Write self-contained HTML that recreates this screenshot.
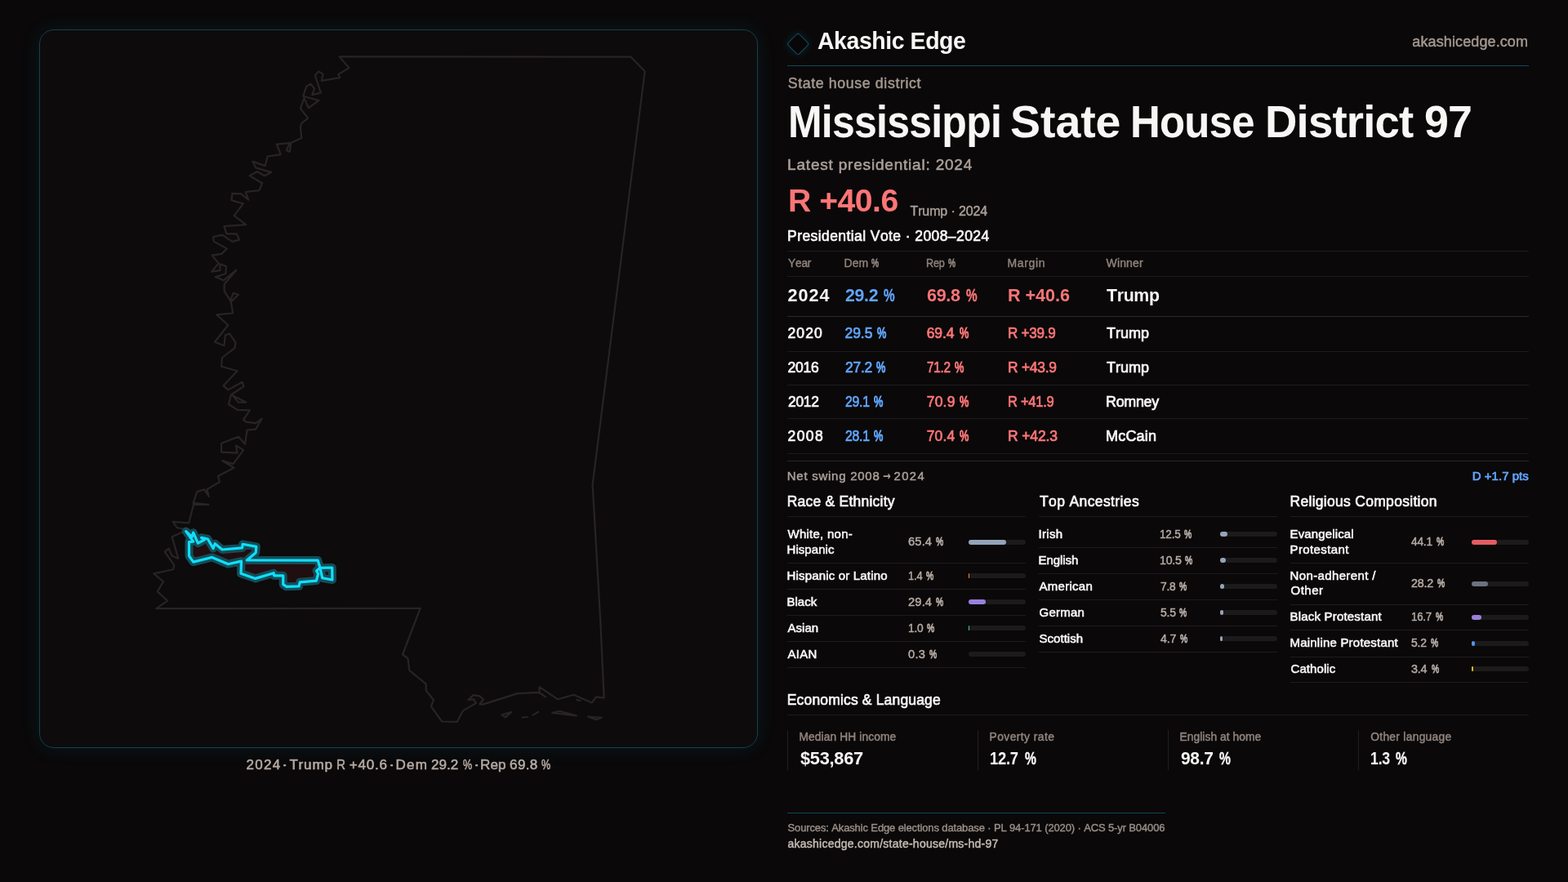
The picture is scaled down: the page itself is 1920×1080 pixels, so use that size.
<!DOCTYPE html>
<html lang="en"><head><meta charset="utf-8"><title>Mississippi State House District 97 · Akashic Edge</title>
<style>
html,body{margin:0;padding:0;background:#0a0809;}
header,footer,section,p{margin:0;padding:0;display:block;position:static;}
body{width:1920px;height:1080px;position:relative;overflow:hidden;font-family:"Liberation Sans", sans-serif;}
.t{position:absolute;white-space:pre;font-family:"Liberation Sans", sans-serif;font-kerning:none;}
.ln{position:absolute;}
.bar{position:absolute;width:70px;height:6px;border-radius:3px;background:#1c1a1b;}
.bar i{display:block;height:6px;border-radius:3px;}
#panel{position:absolute;left:48px;top:36px;width:878px;height:878px;border:1px solid #11414e;border-radius:18px;background:#0d0b0c;box-shadow:0 0 26px rgba(34,211,238,0.085);}
#map{position:absolute;left:0;top:0;}
#logo{position:absolute;left:966.6px;top:43.8px;width:18.4px;height:18.4px;border:1.8px solid #0f4e60;border-radius:3px;background:#080607;transform:rotate(45deg);box-shadow:0 0 12px rgba(34,211,238,0.16);}
</style></head><body>
<div id="panel"></div>
<svg id="map" width="960" height="1080" viewBox="0 0 960 1080">
<g fill="none" stroke="#282425" stroke-width="2.2" stroke-linejoin="round" stroke-linecap="round"><path d="M415.6,69.4 L427.4,83.1 L414.1,91.1 L416.3,95.2 L393.7,98.9 L395.6,90.6 L390,87.4 L385.9,92.4 L392.8,113.7 L382.2,116.1 L385,108.5 L380.4,102.6 L375.2,105.9 L371.1,117.8 L390.4,123 L378,132.2 L372.4,120.2 L367.8,132.8 L377,144.6 L369.6,150.7 L367.8,155.4 L369.3,168.9 L356.3,174.8 L354.8,185.9 L350.7,184.1 L354.8,175.2 L338.7,176.7 L343.7,189.1 L327.6,191.5 L324.8,203.1 L309.4,197.6 L313.1,205.4 L332.2,210.9 L323.7,215.2 L315,210 L305.7,215.2 L321.1,224.3 L317.4,233.1 L300.7,235 L304.3,244.6 L295.2,237.4 L284.4,236.9 L283.5,245.2 L297.8,249.4 L286.7,264.1 L301.3,275.2 L274.4,277 L277.4,286.3 L289.8,286.3 L293.1,293.7 L284.3,295.9 L272.2,287.6 L261.1,290 L261.7,295.6 L277.8,304.4 L271.3,310.9 L259.6,312.6 L267.6,322.4 L259.3,332.6 L269.4,331.1 L269.4,323.3 L276.9,326.1 L276.5,335 L263.9,339.1 L273.7,343.3 L289.4,330.7 L274.6,348 L274.6,356.3 L282,367.8 L285.7,358.9 L292,360.7 L282.8,369.6 L285.2,383.5 L265.2,385.4 L279.3,398 L263,418.7 L274.4,423.3 L275.9,410.4 L281.1,408.5 L288.5,419.3 L287.4,426.1 L272,438 L271.1,448.7 L290.6,454.3 L273.5,472.2 L279.4,477.4 L296.7,467.8 L298.5,473.1 L283.7,483 L292,492.6 L301.3,492.6 L282.8,483.3 L280,495 L290.6,501.9 L305.9,502.4 L298.1,513.9 L301.3,516.7 L313.3,518.1 L320.7,512.6 L313,525.6 L302.6,526.5 L300,543.7 L292,534.8 L271.1,542.8 L271.1,553.7 L290.6,554.6 L288.9,545.4 L298.1,551.1 L285.6,568.1 L272,564.1 L286.5,572.8 L267,583 L268.9,590 L253.5,599.3 L255.9,608 L250,599.3 L241.1,602.4 L236.7,615.9 L255.2,617.8 L237,617.8 L231.3,640.3 L211.7,638.9 L216.7,646.1 L224.4,647.8 L227,650 L210.6,657.2 L218.3,683.9 L210.6,680.6 L206.7,671.7 L201.7,675.6 L213.3,692 L212.2,697.2 L188.3,702.4 L200,712.2 L192.8,724.4 L205,735.6 L191.3,745.2 L514.6,744.8 L493,801.5 L499.4,806.1 L501.3,820.9 L521.7,837.6 L521.7,845.6 L530.9,857 L527.8,864.8 L541.1,883.5 L559.6,883.9 L566.7,870.4 L582.8,861.1 L580,856.1 L573.5,857 L579.6,851.1 L587.4,852.4 L592,856.7 L587.4,862.2 L591.1,862.6 L633.7,849.1 L659.6,847.8 L668.1,853.3 L660.3,848 L660.7,841.2 L683,856.3 L702.5,850.7 L724.7,860.4 L730.1,853.3 L739.6,854.5 L735.2,760 L725.6,593.3 L789.6,87.3 L772.2,69.6 Z"/><path d="M614.3,875.2 L626.3,871.9 L618.9,878.3 Z"/><path d="M639.6,878.5 L645.7,878"/><path d="M652.6,875.6 L659.3,871.6"/><path d="M676.3,872.9 L685.2,870.8 L705.9,876.3 Z"/><path d="M720,877.5 L729.6,881.2 L737,878.8 Z"/><path d="M706,857 L710.4,857.8"/></g>
<path d="M227.8,650.6 L235.1,657.4 L236.7,652.2 L242.4,665.2 L250.2,661.0 L246.6,658.4 L254.4,660 L261.1,671.5 L263.2,665.7 L272.1,673.0 L296.6,670.9 L297.1,666.3 L313.8,669.4 L313.2,676.7 L302.3,686.0 L389.2,686.1 L391.9,695.3 L406.7,695.0 L406.9,710.0 L394.7,707.8 L391.9,695.3 L387.6,698.9 L389.6,702.6 L387.4,711.1 L367.2,712.8 L366.1,717.8 L350.6,718.3 L346.7,715.6 L346.7,704.8 L335.6,704.8 L335.1,701.7 L312.7,708.4 L295,702.2 L295.5,687.1 L279.4,690.7 L259.6,682.4 L236.7,688.1 L231.5,680.8 L231.5,663.6 L236.7,663.1 Z" fill="#200e10" stroke="#15505c" stroke-width="10" stroke-linejoin="round" stroke-opacity="0.95"/>
<path d="M227.8,650.6 L235.1,657.4 L236.7,652.2 L242.4,665.2 L250.2,661.0 L246.6,658.4 L254.4,660 L261.1,671.5 L263.2,665.7 L272.1,673.0 L296.6,670.9 L297.1,666.3 L313.8,669.4 L313.2,676.7 L302.3,686.0 L389.2,686.1 L391.9,695.3 L406.7,695.0 L406.9,710.0 L394.7,707.8 L391.9,695.3 L387.6,698.9 L389.6,702.6 L387.4,711.1 L367.2,712.8 L366.1,717.8 L350.6,718.3 L346.7,715.6 L346.7,704.8 L335.6,704.8 L335.1,701.7 L312.7,708.4 L295,702.2 L295.5,687.1 L279.4,690.7 L259.6,682.4 L236.7,688.1 L231.5,680.8 L231.5,663.6 L236.7,663.1 Z" fill="none" stroke="#10dffc" stroke-width="3.2" stroke-linejoin="round"/>
</svg>
<div id="logo"></div>
<div class="ln" style="left:964px;top:80px;width:908px;height:1px;background:#0f4757"></div>
<div class="ln" style="left:964px;top:307px;width:908px;height:1px;background:#1d1b1c"></div>
<div class="ln" style="left:964px;top:338px;width:908px;height:1px;background:#1d1b1c"></div>
<div class="ln" style="left:964px;top:387px;width:908px;height:1px;background:#2a2728"></div>
<div class="ln" style="left:964px;top:430px;width:908px;height:1px;background:#1d1b1c"></div>
<div class="ln" style="left:964px;top:471px;width:908px;height:1px;background:#1d1b1c"></div>
<div class="ln" style="left:964px;top:512px;width:908px;height:1px;background:#1d1b1c"></div>
<div class="ln" style="left:964px;top:555px;width:908px;height:1px;background:#1d1b1c"></div>
<div class="ln" style="left:964px;top:564px;width:908px;height:1px;background:#2a2728"></div>
<div class="ln" style="left:964px;top:632px;width:292px;height:1px;background:#1d1b1c"></div>
<div class="ln" style="left:1272px;top:632px;width:292px;height:1px;background:#1d1b1c"></div>
<div class="ln" style="left:1580px;top:632px;width:292px;height:1px;background:#1d1b1c"></div>
<div class="ln" style="left:964px;top:689px;width:292px;height:1px;background:#1d1b1c"></div>
<div class="ln" style="left:964px;top:721px;width:292px;height:1px;background:#1d1b1c"></div>
<div class="ln" style="left:964px;top:753px;width:292px;height:1px;background:#1d1b1c"></div>
<div class="ln" style="left:964px;top:785px;width:292px;height:1px;background:#1d1b1c"></div>
<div class="ln" style="left:964px;top:817px;width:292px;height:1px;background:#1d1b1c"></div>
<div class="ln" style="left:1272px;top:670px;width:292px;height:1px;background:#1d1b1c"></div>
<div class="ln" style="left:1272px;top:702px;width:292px;height:1px;background:#1d1b1c"></div>
<div class="ln" style="left:1272px;top:734px;width:292px;height:1px;background:#1d1b1c"></div>
<div class="ln" style="left:1272px;top:766px;width:292px;height:1px;background:#1d1b1c"></div>
<div class="ln" style="left:1272px;top:798px;width:292px;height:1px;background:#1d1b1c"></div>
<div class="ln" style="left:1580px;top:689px;width:292px;height:1px;background:#1d1b1c"></div>
<div class="ln" style="left:1580px;top:740px;width:292px;height:1px;background:#1d1b1c"></div>
<div class="ln" style="left:1580px;top:771px;width:292px;height:1px;background:#1d1b1c"></div>
<div class="ln" style="left:1580px;top:804px;width:292px;height:1px;background:#1d1b1c"></div>
<div class="ln" style="left:1580px;top:835px;width:292px;height:1px;background:#1d1b1c"></div>
<div class="ln" style="left:964px;top:875px;width:908px;height:1px;background:#1d1b1c"></div>
<div class="ln" style="left:964px;top:894px;width:1px;height:49px;background:#211f20"></div>
<div class="ln" style="left:1197px;top:894px;width:1px;height:49px;background:#211f20"></div>
<div class="ln" style="left:1430px;top:894px;width:1px;height:49px;background:#211f20"></div>
<div class="ln" style="left:1663px;top:894px;width:1px;height:49px;background:#211f20"></div>
<div class="ln" style="left:964px;top:995px;width:463px;height:1px;background:#0f4757"></div>
<div class="bar" style="left:1186px;top:661px"><i style="width:45.78px;background:#94a3b8"></i></div>
<div class="bar" style="left:1186px;top:702px"><i style="width:0.98px;background:#e9960e"></i></div>
<div class="bar" style="left:1186px;top:734px"><i style="width:20.58px;background:#9a80dc"></i></div>
<div class="bar" style="left:1186px;top:766px"><i style="width:0.70px;background:#34d399"></i></div>
<div class="bar" style="left:1186px;top:798px"></div>
<div class="bar" style="left:1494px;top:651px"><i style="width:8.75px;background:#94a3b8"></i></div>
<div class="bar" style="left:1494px;top:683px"><i style="width:7.35px;background:#94a3b8"></i></div>
<div class="bar" style="left:1494px;top:715px"><i style="width:5.46px;background:#94a3b8"></i></div>
<div class="bar" style="left:1494px;top:747px"><i style="width:3.85px;background:#94a3b8"></i></div>
<div class="bar" style="left:1494px;top:779px"><i style="width:3.29px;background:#94a3b8"></i></div>
<div class="bar" style="left:1802px;top:661px"><i style="width:30.87px;background:#e35d63"></i></div>
<div class="bar" style="left:1802px;top:712px"><i style="width:19.74px;background:#6b7280"></i></div>
<div class="bar" style="left:1802px;top:753px"><i style="width:11.69px;background:#9a80dc"></i></div>
<div class="bar" style="left:1802px;top:785px"><i style="width:3.64px;background:#4f96ea"></i></div>
<div class="bar" style="left:1802px;top:816px"><i style="width:2.38px;background:#f0b429"></i></div>
<header id="header">
<span class="t" style="left:1001.25px;top:36.01px;font-size:28.8px;line-height:28.8px;letter-spacing:-0.432px;color:#f8f7f5;font-weight:700;transform:scaleX(0.988);transform-origin:0 0;">Akashic Edge</span>
<span class="t" style="left:1729.30px;top:42.01px;font-size:18px;line-height:18px;letter-spacing:0.115px;color:#a3978f;-webkit-text-stroke:0.48px #a3978f;">akashicedge.com</span>
</header>
<section id="hero">
<span class="t" style="left:964.75px;top:94.01px;font-size:17.8px;line-height:17.8px;letter-spacing:0.604px;color:#a3978f;-webkit-text-stroke:0.48px #a3978f;">State house district</span>
<span class="t" style="left:965.05px;top:122.00px;font-size:55.5px;line-height:55.5px;letter-spacing:-0.833px;color:#f8f7f5;font-weight:700;transform:scaleX(0.900);transform-origin:0 0;">Mississippi</span>
<span class="t" style="left:1237.10px;top:122.00px;font-size:55.5px;line-height:55.5px;letter-spacing:-0.087px;color:#f8f7f5;font-weight:700;">State</span>
<span class="t" style="left:1384.15px;top:122.00px;font-size:55.5px;line-height:55.5px;letter-spacing:-0.833px;color:#f8f7f5;font-weight:700;transform:scaleX(0.917);transform-origin:0 0;">House</span>
<span class="t" style="left:1549.05px;top:122.00px;font-size:55.5px;line-height:55.5px;letter-spacing:-0.833px;color:#f8f7f5;font-weight:700;transform:scaleX(0.983);transform-origin:0 0;">District</span>
<span class="t" style="left:1744.03px;top:122.00px;font-size:55.5px;line-height:55.5px;letter-spacing:-0.833px;color:#f8f7f5;font-weight:700;transform:scaleX(0.969);transform-origin:0 0;">97</span>
<span class="t" style="left:964.10px;top:192.01px;font-size:19px;line-height:19px;letter-spacing:0.799px;color:#ab9f98;-webkit-text-stroke:0.56px #ab9f98;">Latest presidential: 2024</span>
<span class="t" style="left:965.00px;top:226.00px;font-size:39.2px;line-height:39.2px;letter-spacing:-0.508px;color:#fb7577;font-weight:700;">R +40.6</span>
<span class="t" style="left:1114.50px;top:251.00px;font-size:16px;line-height:16px;letter-spacing:-0.118px;color:#ab9f98;-webkit-text-stroke:0.48px #ab9f98;">Trump · 2024</span>
<span class="t" style="left:964.10px;top:281.00px;font-size:17.5px;line-height:17.5px;letter-spacing:0.416px;color:#f8f7f5;-webkit-text-stroke:0.64px #f8f7f5;">Presidential Vote · 2008–2024</span>
</section>
<section id="pres-table">
<span class="t" style="left:965.00px;top:315.01px;font-size:14px;line-height:14px;letter-spacing:-0.210px;color:#8f837c;-webkit-text-stroke:0.40px #8f837c;transform:scaleX(0.982);transform-origin:0 0;">Year</span>
<span class="t" style="left:1033.50px;top:315.01px;font-size:14px;line-height:14px;letter-spacing:0.074px;color:#8f837c;-webkit-text-stroke:0.40px #8f837c;">Dem</span>
<span class="t" style="left:1067.27px;top:315.01px;font-size:14px;line-height:14px;letter-spacing:0.000px;color:#8f837c;-webkit-text-stroke:0.80px #8f837c;transform:scaleX(0.728);transform-origin:0 0;">%</span>
<span class="t" style="left:1133.60px;top:315.01px;font-size:14px;line-height:14px;letter-spacing:-0.210px;color:#8f837c;-webkit-text-stroke:0.40px #8f837c;transform:scaleX(0.901);transform-origin:0 0;">Rep</span>
<span class="t" style="left:1161.27px;top:315.01px;font-size:14px;line-height:14px;letter-spacing:0.000px;color:#8f837c;-webkit-text-stroke:0.80px #8f837c;transform:scaleX(0.728);transform-origin:0 0;">%</span>
<span class="t" style="left:1233.50px;top:315.01px;font-size:14px;line-height:14px;letter-spacing:0.649px;color:#8f837c;-webkit-text-stroke:0.40px #8f837c;">Margin</span>
<span class="t" style="left:1354.50px;top:315.01px;font-size:14px;line-height:14px;letter-spacing:0.163px;color:#8f837c;-webkit-text-stroke:0.40px #8f837c;">Winner</span>
<span class="t" style="left:964.50px;top:351.00px;font-size:21.6px;line-height:21.6px;letter-spacing:0.991px;color:#f8f7f5;font-weight:700;">2024</span>
<span class="t" style="left:1034.50px;top:351.00px;font-size:21.6px;line-height:21.6px;letter-spacing:-0.324px;color:#60a5fa;font-weight:700;transform:scaleX(0.986);transform-origin:0 0;">29.2</span>
<span class="t" style="left:1082.28px;top:351.00px;font-size:21.6px;line-height:21.6px;letter-spacing:0.000px;color:#60a5fa;font-weight:700;-webkit-text-stroke:0.40px #60a5fa;transform:scaleX(0.709);transform-origin:0 0;">%</span>
<span class="t" style="left:1134.50px;top:351.00px;font-size:21.6px;line-height:21.6px;letter-spacing:-0.324px;color:#fb7577;font-weight:700;transform:scaleX(0.999);transform-origin:0 0;">69.8</span>
<span class="t" style="left:1182.78px;top:351.00px;font-size:21.6px;line-height:21.6px;letter-spacing:0.000px;color:#fb7577;font-weight:700;-webkit-text-stroke:0.40px #fb7577;transform:scaleX(0.709);transform-origin:0 0;">%</span>
<span class="t" style="left:1234.00px;top:351.00px;font-size:21.6px;line-height:21.6px;letter-spacing:-0.037px;color:#fb7577;font-weight:700;">R +40.6</span>
<span class="t" style="left:1354.50px;top:351.00px;font-size:21.6px;line-height:21.6px;letter-spacing:-0.324px;color:#f8f7f5;font-weight:700;transform:scaleX(0.985);transform-origin:0 0;">Trump</span>
<span class="t" style="left:964.50px;top:400.00px;font-size:17.5px;line-height:17.5px;letter-spacing:1.101px;color:#f8f7f5;-webkit-text-stroke:0.72px #f8f7f5;">2020</span>
<span class="t" style="left:1034.50px;top:400.00px;font-size:17.5px;line-height:17.5px;letter-spacing:-0.049px;color:#60a5fa;-webkit-text-stroke:0.72px #60a5fa;">29.5</span>
<span class="t" style="left:1073.58px;top:400.00px;font-size:17.5px;line-height:17.5px;letter-spacing:0.000px;color:#60a5fa;-webkit-text-stroke:1.12px #60a5fa;transform:scaleX(0.728);transform-origin:0 0;">%</span>
<span class="t" style="left:1134.75px;top:400.00px;font-size:17.5px;line-height:17.5px;letter-spacing:-0.132px;color:#fb7577;-webkit-text-stroke:0.72px #fb7577;">69.4</span>
<span class="t" style="left:1174.58px;top:400.00px;font-size:17.5px;line-height:17.5px;letter-spacing:0.000px;color:#fb7577;-webkit-text-stroke:1.12px #fb7577;transform:scaleX(0.728);transform-origin:0 0;">%</span>
<span class="t" style="left:1234.03px;top:400.00px;font-size:17.5px;line-height:17.5px;letter-spacing:-0.263px;color:#fb7577;-webkit-text-stroke:0.72px #fb7577;transform:scaleX(0.975);transform-origin:0 0;">R +39.9</span>
<span class="t" style="left:1355.00px;top:399.01px;font-size:18px;line-height:18px;letter-spacing:-0.019px;color:#f8f7f5;-webkit-text-stroke:0.72px #f8f7f5;">Trump</span>
<span class="t" style="left:964.50px;top:442.00px;font-size:17.5px;line-height:17.5px;letter-spacing:-0.233px;color:#f8f7f5;-webkit-text-stroke:0.72px #f8f7f5;">2016</span>
<span class="t" style="left:1034.50px;top:442.00px;font-size:17.5px;line-height:17.5px;letter-spacing:-0.263px;color:#60a5fa;-webkit-text-stroke:0.72px #60a5fa;transform:scaleX(0.997);transform-origin:0 0;">27.2</span>
<span class="t" style="left:1072.83px;top:442.00px;font-size:17.5px;line-height:17.5px;letter-spacing:0.000px;color:#60a5fa;-webkit-text-stroke:1.12px #60a5fa;transform:scaleX(0.728);transform-origin:0 0;">%</span>
<span class="t" style="left:1134.75px;top:442.00px;font-size:17.5px;line-height:17.5px;letter-spacing:-0.263px;color:#fb7577;-webkit-text-stroke:0.72px #fb7577;transform:scaleX(0.874);transform-origin:0 0;">71.2</span>
<span class="t" style="left:1169.08px;top:442.00px;font-size:17.5px;line-height:17.5px;letter-spacing:0.000px;color:#fb7577;-webkit-text-stroke:1.12px #fb7577;transform:scaleX(0.728);transform-origin:0 0;">%</span>
<span class="t" style="left:1234.00px;top:442.00px;font-size:17.5px;line-height:17.5px;letter-spacing:-0.263px;color:#fb7577;-webkit-text-stroke:0.72px #fb7577;transform:scaleX(0.996);transform-origin:0 0;">R +43.9</span>
<span class="t" style="left:1355.00px;top:441.01px;font-size:18px;line-height:18px;letter-spacing:-0.019px;color:#f8f7f5;-webkit-text-stroke:0.72px #f8f7f5;">Trump</span>
<span class="t" style="left:964.50px;top:484.00px;font-size:17.5px;line-height:17.5px;letter-spacing:-0.263px;color:#f8f7f5;-webkit-text-stroke:0.72px #f8f7f5;transform:scaleX(0.996);transform-origin:0 0;">2012</span>
<span class="t" style="left:1034.50px;top:484.00px;font-size:17.5px;line-height:17.5px;letter-spacing:-0.263px;color:#60a5fa;-webkit-text-stroke:0.72px #60a5fa;transform:scaleX(0.904);transform-origin:0 0;">29.1</span>
<span class="t" style="left:1069.83px;top:484.00px;font-size:17.5px;line-height:17.5px;letter-spacing:0.000px;color:#60a5fa;-webkit-text-stroke:1.12px #60a5fa;transform:scaleX(0.728);transform-origin:0 0;">%</span>
<span class="t" style="left:1134.75px;top:484.00px;font-size:17.5px;line-height:17.5px;letter-spacing:0.201px;color:#fb7577;-webkit-text-stroke:0.72px #fb7577;">70.9</span>
<span class="t" style="left:1174.58px;top:484.00px;font-size:17.5px;line-height:17.5px;letter-spacing:0.000px;color:#fb7577;-webkit-text-stroke:1.12px #fb7577;transform:scaleX(0.728);transform-origin:0 0;">%</span>
<span class="t" style="left:1234.06px;top:484.00px;font-size:17.5px;line-height:17.5px;letter-spacing:-0.263px;color:#fb7577;-webkit-text-stroke:0.72px #fb7577;transform:scaleX(0.941);transform-origin:0 0;">R +41.9</span>
<span class="t" style="left:1354.01px;top:483.01px;font-size:18px;line-height:18px;letter-spacing:-0.270px;color:#f8f7f5;-webkit-text-stroke:0.72px #f8f7f5;transform:scaleX(0.993);transform-origin:0 0;">Romney</span>
<span class="t" style="left:964.50px;top:526.00px;font-size:17.5px;line-height:17.5px;letter-spacing:1.434px;color:#f8f7f5;-webkit-text-stroke:0.72px #f8f7f5;">2008</span>
<span class="t" style="left:1034.50px;top:526.00px;font-size:17.5px;line-height:17.5px;letter-spacing:-0.263px;color:#60a5fa;-webkit-text-stroke:0.72px #60a5fa;transform:scaleX(0.904);transform-origin:0 0;">28.1</span>
<span class="t" style="left:1069.83px;top:526.00px;font-size:17.5px;line-height:17.5px;letter-spacing:0.000px;color:#60a5fa;-webkit-text-stroke:1.12px #60a5fa;transform:scaleX(0.728);transform-origin:0 0;">%</span>
<span class="t" style="left:1134.75px;top:526.00px;font-size:17.5px;line-height:17.5px;letter-spacing:0.118px;color:#fb7577;-webkit-text-stroke:0.72px #fb7577;">70.4</span>
<span class="t" style="left:1175.33px;top:526.00px;font-size:17.5px;line-height:17.5px;letter-spacing:0.000px;color:#fb7577;-webkit-text-stroke:1.12px #fb7577;transform:scaleX(0.728);transform-origin:0 0;">%</span>
<span class="t" style="left:1234.00px;top:526.00px;font-size:17.5px;line-height:17.5px;letter-spacing:-0.133px;color:#fb7577;-webkit-text-stroke:0.72px #fb7577;">R +42.3</span>
<span class="t" style="left:1354.00px;top:525.01px;font-size:18px;line-height:18px;letter-spacing:0.199px;color:#f8f7f5;-webkit-text-stroke:0.72px #f8f7f5;">McCain</span>
<span class="t" style="left:963.75px;top:575.01px;font-size:15px;line-height:15px;letter-spacing:0.738px;color:#ab9f98;-webkit-text-stroke:0.48px #ab9f98;">Net swing 2008</span>
<span class="t" style="left:1080.75px;top:576.00px;font-size:14.8px;line-height:14.8px;letter-spacing:0.000px;color:#ab9f98;font-weight:700;font-family:'DejaVu Sans','Liberation Sans',sans-serif;transform:scaleX(0.779);transform-origin:0 0;">→</span>
<span class="t" style="left:1094.50px;top:576.00px;font-size:14.8px;line-height:14.8px;letter-spacing:1.404px;color:#ab9f98;-webkit-text-stroke:0.48px #ab9f98;">2024</span>
<span class="t" style="left:1802.75px;top:575.01px;font-size:15px;line-height:15px;letter-spacing:0.023px;color:#60a5fa;-webkit-text-stroke:0.72px #60a5fa;">D +1.7 pts</span>
</section>
<section id="heads">
<span class="t" style="left:963.75px;top:606.00px;font-size:17.5px;line-height:17.5px;letter-spacing:0.224px;color:#f8f7f5;-webkit-text-stroke:0.64px #f8f7f5;">Race &amp; Ethnicity</span>
<span class="t" style="left:1273.00px;top:606.00px;font-size:17.5px;line-height:17.5px;letter-spacing:0.383px;color:#f8f7f5;-webkit-text-stroke:0.64px #f8f7f5;">Top Ancestries</span>
<span class="t" style="left:1579.50px;top:606.00px;font-size:17.5px;line-height:17.5px;letter-spacing:0.294px;color:#f8f7f5;-webkit-text-stroke:0.64px #f8f7f5;">Religious Composition</span>
<span class="t" style="left:963.75px;top:849.01px;font-size:17.5px;line-height:17.5px;letter-spacing:0.165px;color:#f8f7f5;-webkit-text-stroke:0.64px #f8f7f5;">Economics &amp; Language</span>
</section>
<section id="race">
<span class="t" style="left:964.50px;top:646.01px;font-size:15px;line-height:15px;letter-spacing:0.255px;color:#f8f7f5;-webkit-text-stroke:0.56px #f8f7f5;">White, non-</span>
<span class="t" style="left:963.50px;top:665.01px;font-size:15px;line-height:15px;letter-spacing:0.068px;color:#f8f7f5;-webkit-text-stroke:0.56px #f8f7f5;">Hispanic</span>
<span class="t" style="left:1112.00px;top:656.01px;font-size:14.7px;line-height:14.7px;letter-spacing:0.151px;color:#b5aaa3;-webkit-text-stroke:0.48px #b5aaa3;">65.4</span>
<span class="t" style="left:1145.83px;top:656.01px;font-size:14.7px;line-height:14.7px;letter-spacing:0.000px;color:#b5aaa3;-webkit-text-stroke:0.88px #b5aaa3;transform:scaleX(0.705);transform-origin:0 0;">%</span>
<span class="t" style="left:963.50px;top:697.01px;font-size:15px;line-height:15px;letter-spacing:0.178px;color:#f8f7f5;-webkit-text-stroke:0.56px #f8f7f5;">Hispanic or Latino</span>
<span class="t" style="left:1111.62px;top:698.01px;font-size:14.7px;line-height:14.7px;letter-spacing:-0.220px;color:#b5aaa3;-webkit-text-stroke:0.48px #b5aaa3;transform:scaleX(0.884);transform-origin:0 0;">1.4</span>
<span class="t" style="left:1134.08px;top:698.01px;font-size:14.7px;line-height:14.7px;letter-spacing:0.000px;color:#b5aaa3;-webkit-text-stroke:0.88px #b5aaa3;transform:scaleX(0.705);transform-origin:0 0;">%</span>
<span class="t" style="left:963.50px;top:729.01px;font-size:15px;line-height:15px;letter-spacing:0.018px;color:#f8f7f5;-webkit-text-stroke:0.56px #f8f7f5;">Black</span>
<span class="t" style="left:1112.00px;top:730.01px;font-size:14.7px;line-height:14.7px;letter-spacing:0.151px;color:#b5aaa3;-webkit-text-stroke:0.48px #b5aaa3;">29.4</span>
<span class="t" style="left:1145.83px;top:730.01px;font-size:14.7px;line-height:14.7px;letter-spacing:0.000px;color:#b5aaa3;-webkit-text-stroke:0.88px #b5aaa3;transform:scaleX(0.705);transform-origin:0 0;">%</span>
<span class="t" style="left:964.50px;top:761.01px;font-size:15px;line-height:15px;letter-spacing:0.018px;color:#f8f7f5;-webkit-text-stroke:0.56px #f8f7f5;">Asian</span>
<span class="t" style="left:1111.56px;top:762.01px;font-size:14.7px;line-height:14.7px;letter-spacing:-0.220px;color:#b5aaa3;-webkit-text-stroke:0.48px #b5aaa3;transform:scaleX(0.937);transform-origin:0 0;">1.0</span>
<span class="t" style="left:1135.08px;top:762.01px;font-size:14.7px;line-height:14.7px;letter-spacing:0.000px;color:#b5aaa3;-webkit-text-stroke:0.88px #b5aaa3;transform:scaleX(0.705);transform-origin:0 0;">%</span>
<span class="t" style="left:964.50px;top:793.01px;font-size:15px;line-height:15px;letter-spacing:0.274px;color:#f8f7f5;-webkit-text-stroke:0.56px #f8f7f5;">AIAN</span>
<span class="t" style="left:1112.00px;top:794.01px;font-size:14.7px;line-height:14.7px;letter-spacing:0.311px;color:#b5aaa3;-webkit-text-stroke:0.48px #b5aaa3;">0.3</span>
<span class="t" style="left:1137.83px;top:794.01px;font-size:14.7px;line-height:14.7px;letter-spacing:0.000px;color:#b5aaa3;-webkit-text-stroke:0.88px #b5aaa3;transform:scaleX(0.705);transform-origin:0 0;">%</span>
</section>
<section id="ancestry">
<span class="t" style="left:1271.50px;top:646.01px;font-size:15px;line-height:15px;letter-spacing:0.314px;color:#f8f7f5;-webkit-text-stroke:0.56px #f8f7f5;">Irish</span>
<span class="t" style="left:1419.58px;top:647.01px;font-size:14.7px;line-height:14.7px;letter-spacing:-0.220px;color:#b5aaa3;-webkit-text-stroke:0.48px #b5aaa3;transform:scaleX(0.920);transform-origin:0 0;">12.5</span>
<span class="t" style="left:1450.08px;top:647.01px;font-size:14.7px;line-height:14.7px;letter-spacing:0.000px;color:#b5aaa3;-webkit-text-stroke:0.88px #b5aaa3;transform:scaleX(0.705);transform-origin:0 0;">%</span>
<span class="t" style="left:1271.50px;top:678.01px;font-size:15px;line-height:15px;letter-spacing:-0.059px;color:#f8f7f5;-webkit-text-stroke:0.56px #f8f7f5;">English</span>
<span class="t" style="left:1419.53px;top:679.00px;font-size:14.7px;line-height:14.7px;letter-spacing:-0.220px;color:#b5aaa3;-webkit-text-stroke:0.48px #b5aaa3;transform:scaleX(0.967);transform-origin:0 0;">10.5</span>
<span class="t" style="left:1451.33px;top:679.00px;font-size:14.7px;line-height:14.7px;letter-spacing:0.000px;color:#b5aaa3;-webkit-text-stroke:0.88px #b5aaa3;transform:scaleX(0.705);transform-origin:0 0;">%</span>
<span class="t" style="left:1272.50px;top:710.01px;font-size:15px;line-height:15px;letter-spacing:0.284px;color:#f8f7f5;-webkit-text-stroke:0.56px #f8f7f5;">American</span>
<span class="t" style="left:1420.50px;top:711.00px;font-size:14.7px;line-height:14.7px;letter-spacing:-0.220px;color:#b5aaa3;-webkit-text-stroke:0.48px #b5aaa3;transform:scaleX(0.940);transform-origin:0 0;">7.8</span>
<span class="t" style="left:1444.08px;top:711.00px;font-size:14.7px;line-height:14.7px;letter-spacing:0.000px;color:#b5aaa3;-webkit-text-stroke:0.88px #b5aaa3;transform:scaleX(0.705);transform-origin:0 0;">%</span>
<span class="t" style="left:1272.50px;top:742.00px;font-size:15px;line-height:15px;letter-spacing:0.232px;color:#f8f7f5;-webkit-text-stroke:0.56px #f8f7f5;">German</span>
<span class="t" style="left:1420.50px;top:743.01px;font-size:14.7px;line-height:14.7px;letter-spacing:-0.220px;color:#b5aaa3;-webkit-text-stroke:0.48px #b5aaa3;transform:scaleX(0.953);transform-origin:0 0;">5.5</span>
<span class="t" style="left:1444.33px;top:743.01px;font-size:14.7px;line-height:14.7px;letter-spacing:0.000px;color:#b5aaa3;-webkit-text-stroke:0.88px #b5aaa3;transform:scaleX(0.705);transform-origin:0 0;">%</span>
<span class="t" style="left:1272.50px;top:774.01px;font-size:15px;line-height:15px;letter-spacing:0.034px;color:#f8f7f5;-webkit-text-stroke:0.56px #f8f7f5;">Scottish</span>
<span class="t" style="left:1420.50px;top:775.00px;font-size:14.7px;line-height:14.7px;letter-spacing:-0.220px;color:#b5aaa3;-webkit-text-stroke:0.48px #b5aaa3;transform:scaleX(0.965);transform-origin:0 0;">4.7</span>
<span class="t" style="left:1444.58px;top:775.00px;font-size:14.7px;line-height:14.7px;letter-spacing:0.000px;color:#b5aaa3;-webkit-text-stroke:0.88px #b5aaa3;transform:scaleX(0.705);transform-origin:0 0;">%</span>
</section>
<section id="religion">
<span class="t" style="left:1579.50px;top:646.01px;font-size:15px;line-height:15px;letter-spacing:0.137px;color:#f8f7f5;-webkit-text-stroke:0.56px #f8f7f5;">Evangelical</span>
<span class="t" style="left:1579.50px;top:665.01px;font-size:15px;line-height:15px;letter-spacing:0.394px;color:#f8f7f5;-webkit-text-stroke:0.56px #f8f7f5;">Protestant</span>
<span class="t" style="left:1728.25px;top:656.01px;font-size:14.7px;line-height:14.7px;letter-spacing:-0.220px;color:#b5aaa3;-webkit-text-stroke:0.48px #b5aaa3;transform:scaleX(0.932);transform-origin:0 0;">44.1</span>
<span class="t" style="left:1759.08px;top:656.01px;font-size:14.7px;line-height:14.7px;letter-spacing:0.000px;color:#b5aaa3;-webkit-text-stroke:0.88px #b5aaa3;transform:scaleX(0.705);transform-origin:0 0;">%</span>
<span class="t" style="left:1579.50px;top:697.01px;font-size:15px;line-height:15px;letter-spacing:0.373px;color:#f8f7f5;-webkit-text-stroke:0.56px #f8f7f5;">Non-adherent /</span>
<span class="t" style="left:1580.50px;top:715.01px;font-size:15px;line-height:15px;letter-spacing:0.495px;color:#f8f7f5;-webkit-text-stroke:0.56px #f8f7f5;">Other</span>
<span class="t" style="left:1728.25px;top:707.01px;font-size:14.7px;line-height:14.7px;letter-spacing:-0.220px;color:#b5aaa3;-webkit-text-stroke:0.48px #b5aaa3;transform:scaleX(0.977);transform-origin:0 0;">28.2</span>
<span class="t" style="left:1760.33px;top:707.01px;font-size:14.7px;line-height:14.7px;letter-spacing:0.000px;color:#b5aaa3;-webkit-text-stroke:0.88px #b5aaa3;transform:scaleX(0.705);transform-origin:0 0;">%</span>
<span class="t" style="left:1579.50px;top:747.01px;font-size:15px;line-height:15px;letter-spacing:0.197px;color:#f8f7f5;-webkit-text-stroke:0.56px #f8f7f5;">Black Protestant</span>
<span class="t" style="left:1727.60px;top:748.01px;font-size:14.7px;line-height:14.7px;letter-spacing:-0.220px;color:#b5aaa3;-webkit-text-stroke:0.48px #b5aaa3;transform:scaleX(0.902);transform-origin:0 0;">16.7</span>
<span class="t" style="left:1757.58px;top:748.01px;font-size:14.7px;line-height:14.7px;letter-spacing:0.000px;color:#b5aaa3;-webkit-text-stroke:0.88px #b5aaa3;transform:scaleX(0.705);transform-origin:0 0;">%</span>
<span class="t" style="left:1579.50px;top:779.01px;font-size:15px;line-height:15px;letter-spacing:0.209px;color:#f8f7f5;-webkit-text-stroke:0.56px #f8f7f5;">Mainline Protestant</span>
<span class="t" style="left:1728.25px;top:780.01px;font-size:14.7px;line-height:14.7px;letter-spacing:-0.220px;color:#b5aaa3;-webkit-text-stroke:0.48px #b5aaa3;transform:scaleX(0.953);transform-origin:0 0;">5.2</span>
<span class="t" style="left:1752.08px;top:780.01px;font-size:14.7px;line-height:14.7px;letter-spacing:0.000px;color:#b5aaa3;-webkit-text-stroke:0.88px #b5aaa3;transform:scaleX(0.705);transform-origin:0 0;">%</span>
<span class="t" style="left:1580.50px;top:811.01px;font-size:15px;line-height:15px;letter-spacing:0.080px;color:#f8f7f5;-webkit-text-stroke:0.56px #f8f7f5;">Catholic</span>
<span class="t" style="left:1728.25px;top:812.01px;font-size:14.7px;line-height:14.7px;letter-spacing:-0.220px;color:#b5aaa3;-webkit-text-stroke:0.48px #b5aaa3;transform:scaleX(0.978);transform-origin:0 0;">3.4</span>
<span class="t" style="left:1752.58px;top:812.01px;font-size:14.7px;line-height:14.7px;letter-spacing:0.000px;color:#b5aaa3;-webkit-text-stroke:0.88px #b5aaa3;transform:scaleX(0.705);transform-origin:0 0;">%</span>
</section>
<section id="economics">
<span class="t" style="left:978.50px;top:896.01px;font-size:13.8px;line-height:13.8px;letter-spacing:0.090px;color:#8f837c;-webkit-text-stroke:0.48px #8f837c;">Median HH income</span>
<span class="t" style="left:980.00px;top:918.00px;font-size:21.8px;line-height:21.8px;letter-spacing:-0.278px;color:#f8f7f5;font-weight:700;">$53,867</span>
<span class="t" style="left:1211.50px;top:896.01px;font-size:13.8px;line-height:13.8px;letter-spacing:0.458px;color:#8f837c;-webkit-text-stroke:0.48px #8f837c;">Poverty rate</span>
<span class="t" style="left:1212.41px;top:918.00px;font-size:21.8px;line-height:21.8px;letter-spacing:-0.327px;color:#f8f7f5;font-weight:700;transform:scaleX(0.844);transform-origin:0 0;">12.7</span>
<span class="t" style="left:1254.65px;top:918.00px;font-size:21.8px;line-height:21.8px;letter-spacing:0.000px;color:#f8f7f5;font-weight:700;-webkit-text-stroke:0.40px #f8f7f5;transform:scaleX(0.716);transform-origin:0 0;">%</span>
<span class="t" style="left:1444.50px;top:896.01px;font-size:13.8px;line-height:13.8px;letter-spacing:0.053px;color:#8f837c;-webkit-text-stroke:0.48px #8f837c;">English at home</span>
<span class="t" style="left:1445.50px;top:918.00px;font-size:21.8px;line-height:21.8px;letter-spacing:-0.327px;color:#f8f7f5;font-weight:700;transform:scaleX(0.963);transform-origin:0 0;">98.7</span>
<span class="t" style="left:1492.65px;top:918.00px;font-size:21.8px;line-height:21.8px;letter-spacing:0.000px;color:#f8f7f5;font-weight:700;-webkit-text-stroke:0.40px #f8f7f5;transform:scaleX(0.716);transform-origin:0 0;">%</span>
<span class="t" style="left:1678.25px;top:896.01px;font-size:13.8px;line-height:13.8px;letter-spacing:0.293px;color:#8f837c;-webkit-text-stroke:0.48px #8f837c;">Other language</span>
<span class="t" style="left:1677.93px;top:918.00px;font-size:21.8px;line-height:21.8px;letter-spacing:-0.327px;color:#f8f7f5;font-weight:700;transform:scaleX(0.817);transform-origin:0 0;">1.3</span>
<span class="t" style="left:1709.40px;top:918.00px;font-size:21.8px;line-height:21.8px;letter-spacing:0.000px;color:#f8f7f5;font-weight:700;-webkit-text-stroke:0.40px #f8f7f5;transform:scaleX(0.716);transform-origin:0 0;">%</span>
</section>
<footer id="footer">
<span class="t" style="left:964.50px;top:1007.00px;font-size:13px;line-height:13px;letter-spacing:-0.130px;color:#9a8e87;-webkit-text-stroke:0.40px #9a8e87;">Sources: Akashic Edge elections database · PL 94-171 (2020) · ACS 5-yr B04006</span>
<span class="t" style="left:964.50px;top:1026.00px;font-size:14px;line-height:14px;letter-spacing:0.250px;color:#c4b9b2;-webkit-text-stroke:0.48px #c4b9b2;">akashicedge.com/state-house/ms-hd-97</span>
</footer>
<p id="map-caption">
<span class="t" style="left:301.40px;top:928.01px;font-size:17px;line-height:17px;letter-spacing:1.345px;color:#b5aaa3;-webkit-text-stroke:0.56px #b5aaa3;">2024</span>
<span class="t" style="left:345.00px;top:928.01px;font-size:17px;line-height:17px;letter-spacing:0.000px;color:#b5aaa3;-webkit-text-stroke:0.56px #b5aaa3;transform:scaleX(1.300);transform-origin:0 0;">·</span>
<span class="t" style="left:354.40px;top:928.01px;font-size:17px;line-height:17px;letter-spacing:0.842px;color:#b5aaa3;-webkit-text-stroke:0.56px #b5aaa3;">Trump</span>
<span class="t" style="left:411.91px;top:928.01px;font-size:17px;line-height:17px;letter-spacing:0.000px;color:#b5aaa3;-webkit-text-stroke:0.56px #b5aaa3;transform:scaleX(0.891);transform-origin:0 0;">R</span>
<span class="t" style="left:427.70px;top:928.01px;font-size:17px;line-height:17px;letter-spacing:0.835px;color:#b5aaa3;-webkit-text-stroke:0.56px #b5aaa3;">+40.6</span>
<span class="t" style="left:475.60px;top:928.01px;font-size:17px;line-height:17px;letter-spacing:0.000px;color:#b5aaa3;-webkit-text-stroke:0.56px #b5aaa3;transform:scaleX(1.300);transform-origin:0 0;">·</span>
<span class="t" style="left:484.60px;top:928.01px;font-size:17px;line-height:17px;letter-spacing:1.234px;color:#b5aaa3;-webkit-text-stroke:0.56px #b5aaa3;">Dem</span>
<span class="t" style="left:527.90px;top:928.01px;font-size:17px;line-height:17px;letter-spacing:0.056px;color:#b5aaa3;-webkit-text-stroke:0.56px #b5aaa3;">29.2</span>
<span class="t" style="left:567.00px;top:928.01px;font-size:17px;line-height:17px;letter-spacing:0.000px;color:#b5aaa3;-webkit-text-stroke:0.56px #b5aaa3;transform:scaleX(0.733);transform-origin:0 0;">%</span>
<span class="t" style="left:579.80px;top:928.01px;font-size:17px;line-height:17px;letter-spacing:0.000px;color:#b5aaa3;-webkit-text-stroke:0.56px #b5aaa3;transform:scaleX(1.300);transform-origin:0 0;">·</span>
<span class="t" style="left:587.90px;top:928.01px;font-size:17px;line-height:17px;letter-spacing:0.234px;color:#b5aaa3;-webkit-text-stroke:0.56px #b5aaa3;">Rep</span>
<span class="t" style="left:624.10px;top:928.01px;font-size:17px;line-height:17px;letter-spacing:0.356px;color:#b5aaa3;-webkit-text-stroke:0.56px #b5aaa3;">69.8</span>
<span class="t" style="left:663.30px;top:928.01px;font-size:17px;line-height:17px;letter-spacing:0.000px;color:#b5aaa3;-webkit-text-stroke:0.56px #b5aaa3;transform:scaleX(0.740);transform-origin:0 0;">%</span>
</p>
</body></html>
